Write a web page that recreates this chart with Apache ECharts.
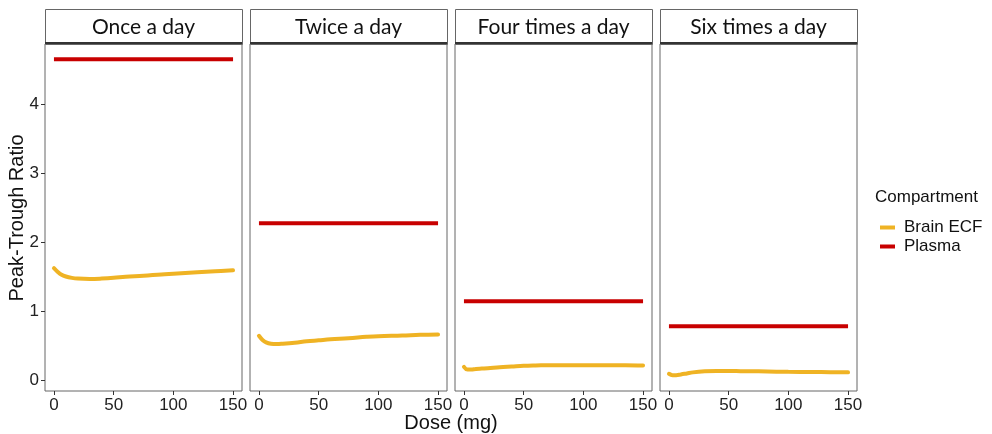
<!DOCTYPE html>
<html>
<head>
<meta charset="utf-8">
<script src="https://cdn.jsdelivr.net/npm/echarts@6/dist/echarts.min.js"></script>
<style>
html, body { margin: 0; padding: 0; background: #fff; }
#chart { width: 992px; height: 434px; }
</style>
</head>
<body>
<div id="chart"></div>
<script>
const panels = [ 'Once a day', 'Twice a day', 'Four times a day', 'Six times a day' ]
const doses = [ 0, 3, 6, 10, 15, 20, 30, 40, 50, 60, 75, 90, 100, 120, 135, 150 ]
const brainOnce = [ 1.62, 1.57, 1.53, 1.50, 1.48, 1.47, 1.465, 1.47, 1.48, 1.495, 1.51, 1.53, 1.54, 1.56, 1.575, 1.59 ]
const brainTwice = [ 0.64, 0.58, 0.545, 0.525, 0.52, 0.525, 0.54, 0.56, 0.575, 0.59, 0.605, 0.625, 0.635, 0.645, 0.655, 0.66 ]
const brainFour = [ 0.19, 0.15, 0.15, 0.16, 0.165, 0.17, 0.185, 0.195, 0.205, 0.21, 0.215, 0.215, 0.215, 0.215, 0.215, 0.21 ]
const brainSix = [ 0.09, 0.07, 0.07, 0.08, 0.095, 0.11, 0.125, 0.13, 0.13, 0.128, 0.125, 0.12, 0.118, 0.115, 0.113, 0.11 ]
const plasma = [ 4.65, 2.27, 1.14, 0.78 ]
const xTicks = [ 0, 50, 100, 150 ]
const yTicks = [ 0, 1, 2, 3, 4 ]

const brain = [ brainOnce, brainTwice, brainFour, brainSix ]
const gold = '#EFB324'
const red = '#C80000'
const lefts = [ 45, 250, 455, 660 ]
const panelW = 197
const panelTop = 44
const panelH = 347

const chart = echarts.init( document.getElementById( 'chart' ), null, { renderer: 'canvas' } )

const grid = lefts.map( l => ( {
	left: l, top: panelTop, width: panelW, height: panelH,
	show: true, borderColor: '#666', borderWidth: 1, backgroundColor: '#fff'
} ) )

const xAxis = lefts.map( ( l, i ) => ( {
	type: 'value', gridIndex: i, min: -7.5, max: 157.5,
	splitLine: { show: false },
	axisLine: { show: false, onZero: false },
	axisTick: { show: true, length: 4, lineStyle: { color: '#333' }, customValues: xTicks },
	axisLabel: { customValues: xTicks, color: '#222', fontSize: 17, fontFamily: 'Liberation Sans', margin: 6 }
} ) )

const yAxis = lefts.map( ( l, i ) => ( {
	type: 'value', gridIndex: i, min: -0.16, max: 4.87,
	splitLine: { show: false },
	axisLine: { show: false, onZero: false },
	axisTick: { show: i === 0, length: 4, lineStyle: { color: '#333' }, customValues: yTicks },
	axisLabel: { show: i === 0, customValues: yTicks, color: '#222', fontSize: 17, fontFamily: 'Liberation Sans', margin: 6 }
} ) )

const series = []
lefts.forEach( ( l, i ) => {
	series.push( {
		name: 'Brain ECF', type: 'line', xAxisIndex: i, yAxisIndex: i,
		data: doses.map( ( d, k ) => [ d, brain[ i ][ k ] ] ),
		smooth: 0.4, showSymbol: false, lineStyle: { width: 4, color: gold, cap: 'round' }, itemStyle: { color: gold }
	} )
	series.push( {
		name: 'Plasma', type: 'line', xAxisIndex: i, yAxisIndex: i,
		data: [ [ xTicks[ 0 ], plasma[ i ] ], [ xTicks[ xTicks.length - 1 ], plasma[ i ] ] ],
		showSymbol: false, lineStyle: { width: 4, color: red }, itemStyle: { color: red }
	} )
} )

const graphic = []
lefts.forEach( ( l, i ) => {
	graphic.push( {
		type: 'rect', left: l, top: 9,
		shape: { width: panelW, height: 35 },
		style: { fill: '#fff', stroke: '#666', lineWidth: 1 }
	} )
	graphic.push( {
		type: 'rect', left: l, top: 42,
		shape: { width: panelW, height: 2 },
		style: { fill: '#333' }
	} )
	graphic.push( {
		type: 'text', x: l + panelW / 2, y: 27,
		style: { text: panels[ i ], fill: '#111', font: '21px Lato', align: 'center', verticalAlign: 'middle' }
	} )
} )
graphic.push( {
	type: 'text', x: 17, y: 218, rotation: Math.PI / 2,
	style: { text: 'Peak-Trough Ratio', fill: '#111', font: '20px "Liberation Sans"', align: 'center', verticalAlign: 'middle' }
} )
graphic.push( {
	type: 'text', x: 451, y: 423,
	style: { text: 'Dose (mg)', fill: '#111', font: '20px "Liberation Sans"', align: 'center', verticalAlign: 'middle' }
} )
graphic.push( {
	type: 'text', x: 875, y: 197,
	style: { text: 'Compartment', fill: '#111', font: '17px "Liberation Sans"', align: 'left', verticalAlign: 'middle' }
} )

chart.setOption( {
	animation: false,
	grid, xAxis, yAxis, series, graphic,
	legend: {
		left: 875, top: 214, orient: 'vertical',
		data: [ { name: 'Brain ECF', icon: 'rect' }, { name: 'Plasma', icon: 'rect' } ],
		itemWidth: 15, itemHeight: 4, itemGap: 2,
		textStyle: { fontSize: 17, color: '#111', fontFamily: 'Liberation Sans', padding: [ 0, 0, 0, 4 ] }
	}
} )
</script>
</body>
</html>
